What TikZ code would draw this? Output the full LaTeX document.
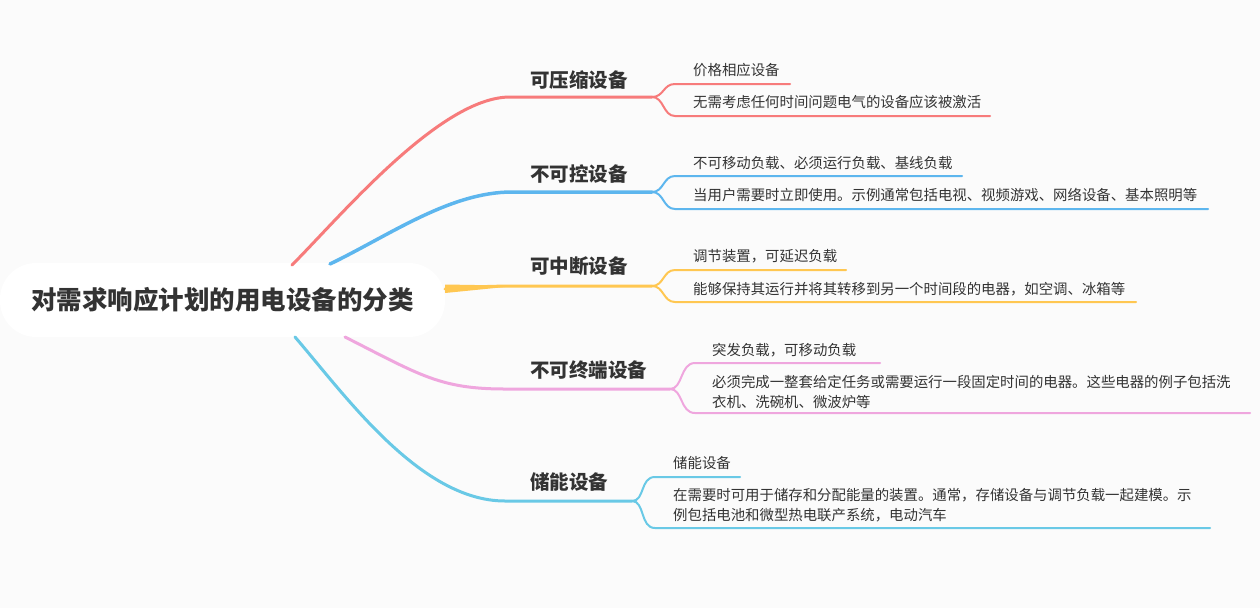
\documentclass[tikz,border=0pt]{standalone}
\usepackage{fontspec}
\setmainfont{Noto Sans CJK SC}
\usetikzlibrary{positioning}
\definecolor{bgc}{HTML}{FBFBFB}
\definecolor{txt}{HTML}{333333}
\definecolor{redb}{HTML}{F77B7B}
\definecolor{blueb}{HTML}{5DB6EE}
\definecolor{yelb}{HTML}{FFC751}
\definecolor{pinkb}{HTML}{EFA6DE}
\definecolor{cyanb}{HTML}{69C9E6}
\tikzset{
  rootbox/.style={fill=white, rounded corners=36pt, minimum width=445pt, minimum height=74pt,
    font=\fontsize{25.5}{30}\selectfont\bfseries, text=txt},
  topic/.style={anchor=west, inner sep=0pt, font=\fontsize{19.5}{24}\selectfont\bfseries, text=txt},
  leaf/.style={anchor=west, inner sep=0pt, font=\fontsize{14.4}{20}\selectfont, text=txt, align=left},
  mainline/.style={line width=3pt, line cap=round},
  subline/.style={line width=2pt, line cap=round},
}

\begin{document}
\begin{tikzpicture}[x=1pt,y=-1pt]
              \fill[bgc] (0,0) rectangle (1260,608);

              % Define root
              \node[rootbox] (root) at (222.5,300) {对需求响应计划的用电设备的分类};
              \coordinate (r1) at (292,265);
              \coordinate (r2) at (330,264);
              \coordinate (r3) at (445,289);
              \coordinate (r4) at (345,337);
              \coordinate (r5) at (295,337);

              % Define topics
              \node[topic] (comp) at (530,80) {可压缩设备};
              \node[topic] (unctl) at (530,174) {不可控设备};
              \node[topic] (intr) at (530,266) {可中断设备};
              \node[topic] (nonint) at (530,370) {不可终端设备};
              \node[topic] (stor) at (530,482) {储能设备};
              \coordinate (comp in) at (510,97);   \coordinate (comp out) at (652,97);
              \coordinate (unctl in) at (512,192); \coordinate (unctl out) at (652,192);
              \coordinate (intr in) at (520,286);  \coordinate (intr out) at (652,286);
              \coordinate (nonint in) at (505,389); \coordinate (nonint out) at (670,389);
              \coordinate (stor in) at (505,501);  \coordinate (stor out) at (632,501);

              % Define leaves
              \node[leaf] (comp a) at (693,70) {价格相应设备};
              \node[leaf] (comp b) at (693,102) {无需考虑任何时间问题电气的设备应该被激活};
              \node[leaf] (unctl a) at (693,163) {不可移动负载、必须运行负载、基线负载};
              \node[leaf] (unctl b) at (693,195) {当用户需要时立即使用。示例通常包括电视、视频游戏、网络设备、基本照明等};
              \node[leaf] (intr a) at (693,256) {调节装置，可延迟负载};
              \node[leaf] (intr b) at (693,289) {能够保持其运行并将其转移到另一个时间段的电器，如空调、冰箱等};
              \node[leaf] (nonint a) at (712,350) {突发负载，可移动负载};
              \node[leaf] (nonint b) at (712,392) {必须完成一整套给定任务或需要运行一段固定时间的电器。这些电器的例子包括洗\\衣机、洗碗机、微波炉等};
              \node[leaf] (stor a) at (673,463) {储能设备};
              \node[leaf] (stor b) at (673,505) {在需要时可用于储存和分配能量的装置。通常，存储设备与调节负载一起建模。示\\例包括电池和微型热电联产系统，电动汽车};

              % Draw main branches
              \draw[mainline, redb] (r1) .. controls (340,217) and (440,97) .. (comp in) -- (comp out);
              \draw[mainline, blueb, line width=3.5pt] (r2) .. controls (390,235) and (450,192) .. (unctl in) -- (unctl out);
              \fill[yelb] (445,284.5) -- (505,285.5) -- (505,287) -- (445,293) -- cycle;
              \draw[mainline, yelb] (r3) .. controls (470,287) and (490,286) .. (intr in) -- (intr out);
              \draw[mainline, pinkb] (r4) .. controls (420,375) and (440,389) .. (nonint in) -- (nonint out);
              \draw[mainline, cyanb] (r5) .. controls (345,395) and (420,501) .. (stor in) -- (stor out);

              % Draw leaf lines
              \draw[subline, redb] (comp out) .. controls (664,97) and (663,84) .. (675,84) -- (790,84);
              \draw[subline, redb] (comp out) .. controls (664,97) and (663,116) .. (675,116) -- (990,116);
              \draw[subline, blueb] (unctl out) .. controls (664,192) and (663,176) .. (675,176) -- (962,176);
              \draw[subline, blueb] (unctl out) .. controls (664,192) and (663,209) .. (675,209) -- (1208,209);
              \draw[subline, yelb] (intr out) .. controls (664,286) and (663,270) .. (675,270) -- (846,270);
              \draw[subline, yelb] (intr out) .. controls (664,286) and (663,302) .. (675,302) -- (1136,302);
              \draw[subline, pinkb] (nonint out) .. controls (683,389) and (680,363) .. (695,363) -- (880,363);
              \draw[subline, pinkb] (nonint out) .. controls (683,389) and (680,413) .. (695,413) -- (1250,413);
              \draw[subline, cyanb] (stor out) .. controls (645,501) and (640,477) .. (655,477) -- (740,477);
              \draw[subline, cyanb] (stor out) .. controls (645,501) and (640,528) .. (655,528) -- (1210,528);
            \end{tikzpicture}
\end{document}
